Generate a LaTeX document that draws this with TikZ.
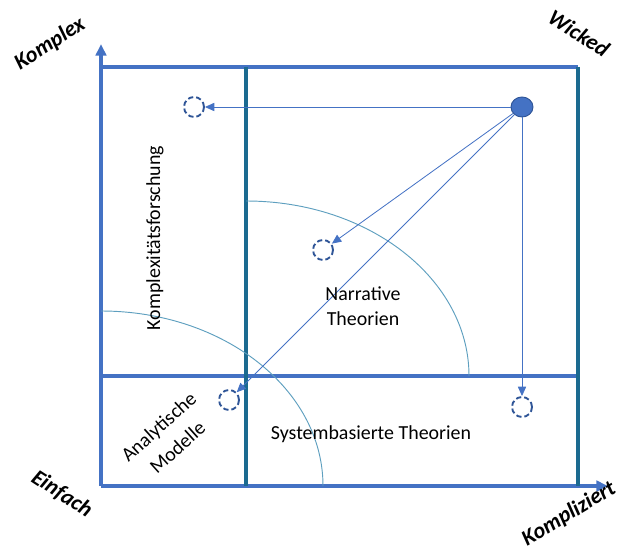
\documentclass[tikz,border=0pt]{standalone}
\usepackage{fontspec}
\setmainfont{Carlito}
\usepackage{xcolor}
\usetikzlibrary{arrows.meta,shapes.geometric}
\definecolor{axisblue}{HTML}{4472C4}
\definecolor{darkteal}{HTML}{1B6A90}
\definecolor{arcteal}{HTML}{5E9FBF}
\definecolor{dashblue}{HTML}{2F5597}
\tikzset{frame/.style={axisblue,line width=2.6pt},
  divider/.style={darkteal,line width=2.6pt},
  quarter/.style={arcteal,line width=0.8pt},
  pointer/.style={axisblue,line width=0.7pt,-{Triangle[length=8pt,width=7pt]}},
  target/.style={circle,draw=dashblue,dash pattern=on 4.5pt off 2.5pt,line width=1.6pt,minimum size=6mm,inner sep=0pt},
  source/.style={ellipse,draw=dashblue,fill=axisblue,line width=0.8pt,minimum width=6.6mm,minimum height=6mm,inner sep=0pt},
  corner label/.style={font=\fontsize{19}{22}\selectfont\bfseries\itshape},
  field label/.style={font=\fontsize{17}{21}\selectfont,align=center}}

\begin{document}
\begin{tikzpicture}[x=0.3mm,y=-0.3mm]
			\useasboundingbox (0,0) rectangle (620,554);
			% axes and frame
			\coordinate (O) at (101,486);
			\coordinate (ytop) at (101,44);
			\coordinate (xend) at (608,486);
			\draw[frame] (101,67) -- (578,67);
			\draw[frame] (101,376) -- (578,376);
			\draw[frame,-{Triangle[length=10pt,width=9pt]}] (O) -- (ytop);
			\draw[frame,-{Triangle[length=10pt,width=9pt]}] (O) -- (xend);
			\draw[divider] (246,67) -- (246,486);
			\draw[divider] (578,67) -- (578,486);
			% arcs
			\draw[quarter] (101,311) arc[start angle=90,end angle=0,x radius=222,y radius=-175];
			\draw[quarter] (246,201) arc[start angle=90,end angle=0,x radius=223,y radius=-175];
			% points
			\node[source] (wicked) at (522,107) {};
			\node[target] (komplex) at (194,107) {};
			\node[target] (narrativ) at (323,250) {};
			\node[target] (analytisch) at (229,400) {};
			\node[target] (kompliziert) at (522,407) {};
			\draw[pointer] (wicked) -- (komplex);
			\draw[pointer] (wicked) -- (narrativ);
			\draw[pointer] (wicked) -- (analytisch);
			\draw[pointer] (wicked) -- (kompliziert);
			% labels
			\node[field label,rotate=90] (kf) at (155,238) {Komplexitätsforschung};
			\node[field label] (nt) at (363,306) {Narrative\\Theorien};
			\node[field label] (st) at (371,434) {Systembasierte Theorien};
			\node[field label,rotate=42,font=\fontsize{17}{24}\selectfont] (am) at (168,437) {Analytische\\Modelle};
			\node[corner label,rotate=33] (lk) at (50,44) {Komplex};
			\node[corner label,rotate=-33] (lw) at (579,33) {Wicked};
			\node[corner label,rotate=-33] (le) at (62,494) {Einfach};
			\node[corner label,rotate=31] (lz) at (569,514) {Kompliziert};
		\end{tikzpicture}
\end{document}
